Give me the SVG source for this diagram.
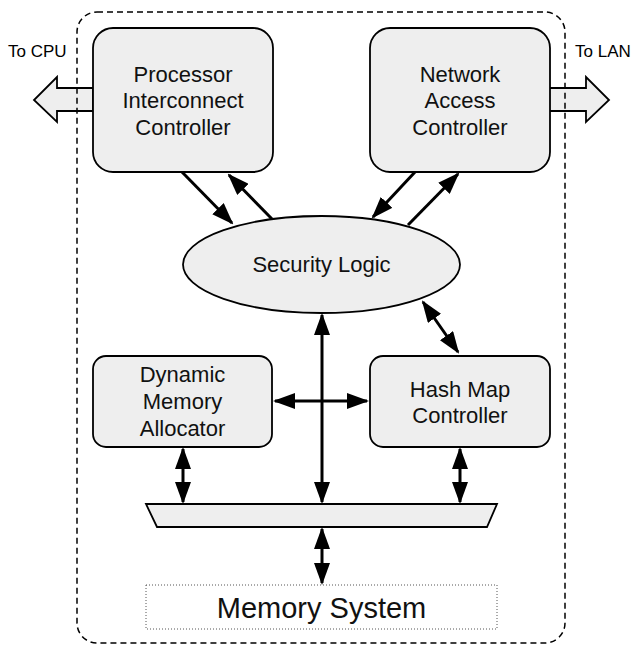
<svg xmlns="http://www.w3.org/2000/svg" width="631" height="646" viewBox="0 0 631 646">
<style>
.box{fill:#eeeeee;stroke:#000;stroke-width:1.8}
.t{font-family:"Liberation Sans",Arial,sans-serif;font-size:22px;fill:#111;text-anchor:middle}
.s{font-family:"Liberation Sans",Arial,sans-serif;font-size:17px;fill:#000}
.c{stroke:#000;stroke-width:3;fill:none;marker-end:url(#ah);marker-start:url(#ah)}
.c1{stroke:#000;stroke-width:3;fill:none;marker-end:url(#ah)}
</style>
<defs>
<marker id="ah" viewBox="0 0 22 16" refX="20" refY="8" markerWidth="22" markerHeight="16" markerUnits="userSpaceOnUse" orient="auto-start-reverse">
<path d="M0,0 L22,8 L0,16 Z" fill="#000"/>
</marker>
</defs>
<rect width="631" height="646" fill="#fff"/>
<g id="io-arrows">
<polygon class="box" points="93,88 57,88 57,77 34,100 57,122 57,111 93,111"/>
<polygon class="box" points="549,88 586,88 586,77 609,100 586,122 586,111 549,111"/>
</g>
<g id="container">
<rect x="77" y="12" width="488" height="631" rx="20" fill="none" stroke="#000" stroke-width="1.5" stroke-dasharray="6 4"/>
</g>
<text class="s" x="8" y="57">To CPU</text>
<text class="s" x="575" y="57">To LAN</text>
<g id="processor">
<rect class="box" x="93" y="28" width="180" height="144" rx="20"/>
<text class="t" x="183" y="82">Processor</text>
<text class="t" x="183" y="108">Interconnect</text>
<text class="t" x="183" y="135">Controller</text>
</g>
<g id="network">
<rect class="box" x="370" y="28" width="180" height="144" rx="20"/>
<text class="t" x="460" y="82">Network</text>
<text class="t" x="460" y="108">Access</text>
<text class="t" x="460" y="135">Controller</text>
</g>
<g id="security">
<ellipse class="box" cx="321.5" cy="264.5" rx="138.5" ry="48.5"/>
<text class="t" x="321.5" y="272">Security Logic</text>
</g>
<g id="allocator">
<rect class="box" x="93" y="356" width="179" height="91" rx="13"/>
<text class="t" x="182.5" y="382">Dynamic</text>
<text class="t" x="182.5" y="409">Memory</text>
<text class="t" x="182.5" y="436">Allocator</text>
</g>
<g id="hashmap">
<rect class="box" x="370" y="356" width="180" height="91" rx="13"/>
<text class="t" x="460" y="397">Hash Map</text>
<text class="t" x="460" y="423">Controller</text>
</g>
<g id="bus">
<polygon class="box" points="146,504 497,504 487,527 157,527"/>
</g>
<g id="memory">
<rect x="146" y="585" width="351" height="44" fill="#fff" stroke="#555" stroke-width="1" stroke-dasharray="1 2"/>
<text class="t" x="321.5" y="618" style="font-size:29px">Memory System</text>
</g>
<g id="connectors">
<line class="c1" x1="182" y1="172" x2="232" y2="223"/>
<line class="c1" x1="272" y1="219" x2="229" y2="175"/>
<line class="c1" x1="415" y1="172" x2="373" y2="217"/>
<line class="c1" x1="408" y1="225" x2="458" y2="174"/>
<line class="c" x1="423" y1="302" x2="458" y2="352"/>
<line class="c" x1="322" y1="315" x2="322" y2="502"/>
<line class="c" x1="275" y1="401" x2="367" y2="401"/>
<line class="c" x1="183" y1="449" x2="183" y2="502"/>
<line class="c" x1="460" y1="449" x2="460" y2="502"/>
<line class="c" x1="322" y1="529" x2="322" y2="583"/>
</g>
</svg>
